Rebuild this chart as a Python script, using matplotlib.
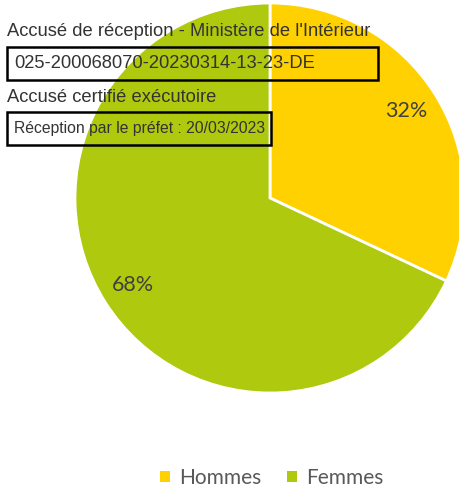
import matplotlib
matplotlib.use('Agg')
import matplotlib.pyplot as plt
from matplotlib.patches import Patch, Rectangle

W, H, DPI = 460, 490, 100

labels = ['Hommes', 'Femmes']
values = [32, 68]
colors = ['#FFD100', '#AFC90E']

stamp_title = "Accusé de réception - Ministère de l'Intérieur"
stamp_id = '025-200068070-20230314-13-23-DE'
stamp_status = 'Accusé certifié exécutoire'
stamp_date = 'Réception par le préfet : 20/03/2023'


def px(x, y):
    # pixel coords (top-left origin) -> figure fraction
    return x / W, 1 - y / H


fig = plt.figure(figsize=(W / DPI, H / DPI), dpi=DPI)

# pie centred at (270, 198) px, radius 195 px
cx, cy, r = 270, 198, 195
ax = fig.add_axes([(cx - r) / W, (H - cy - r) / H, 2 * r / W, 2 * r / H])
wedges, _, autotexts = ax.pie(values, colors=colors, startangle=90, counterclock=False,
                              autopct='%1.0f%%', pctdistance=0.83,
                              wedgeprops={'edgecolor': 'white', 'linewidth': 2},
                              textprops={'color': '#404040', 'fontsize': 15.5,
                                         'family': 'Lato'})
ax.set_xlim(-1, 1)
ax.set_ylim(-1, 1)
ax.axis('off')

handles = [Patch(facecolor=c, edgecolor='none') for c in colors]
leg = fig.legend(handles, labels, loc='center', bbox_to_anchor=px(272, 478),
                 ncol=2, frameon=False, handlelength=0.45, handleheight=0.45,
                 handletextpad=0.45, columnspacing=1.25,
                 prop={'family': 'Lato', 'size': 15})
for t in leg.get_texts():
    t.set_color('#595959')

# reception stamp
stamp_font = {'family': 'Liberation Sans', 'color': '#333333'}
fig.text(*px(7, 36), stamp_title, fontsize=13.2, va='baseline', **stamp_font)
fig.text(*px(14, 68), stamp_id, fontsize=13.2, va='baseline', **stamp_font)
fig.text(*px(7, 102), stamp_status, fontsize=13.2, va='baseline', **stamp_font)
fig.text(*px(14, 133), stamp_date, fontsize=11.3, va='baseline', **stamp_font)

for x0, y0, x1, y1 in [(7, 47, 378, 80), (7, 112, 271, 145)]:
    fig.patches.append(Rectangle(px(x0, y1), (x1 - x0) / W, (y1 - y0) / H,
                                 transform=fig.transFigure, fill=False,
                                 edgecolor='black', linewidth=1.8))

fig.savefig('out.png', dpi=DPI)
